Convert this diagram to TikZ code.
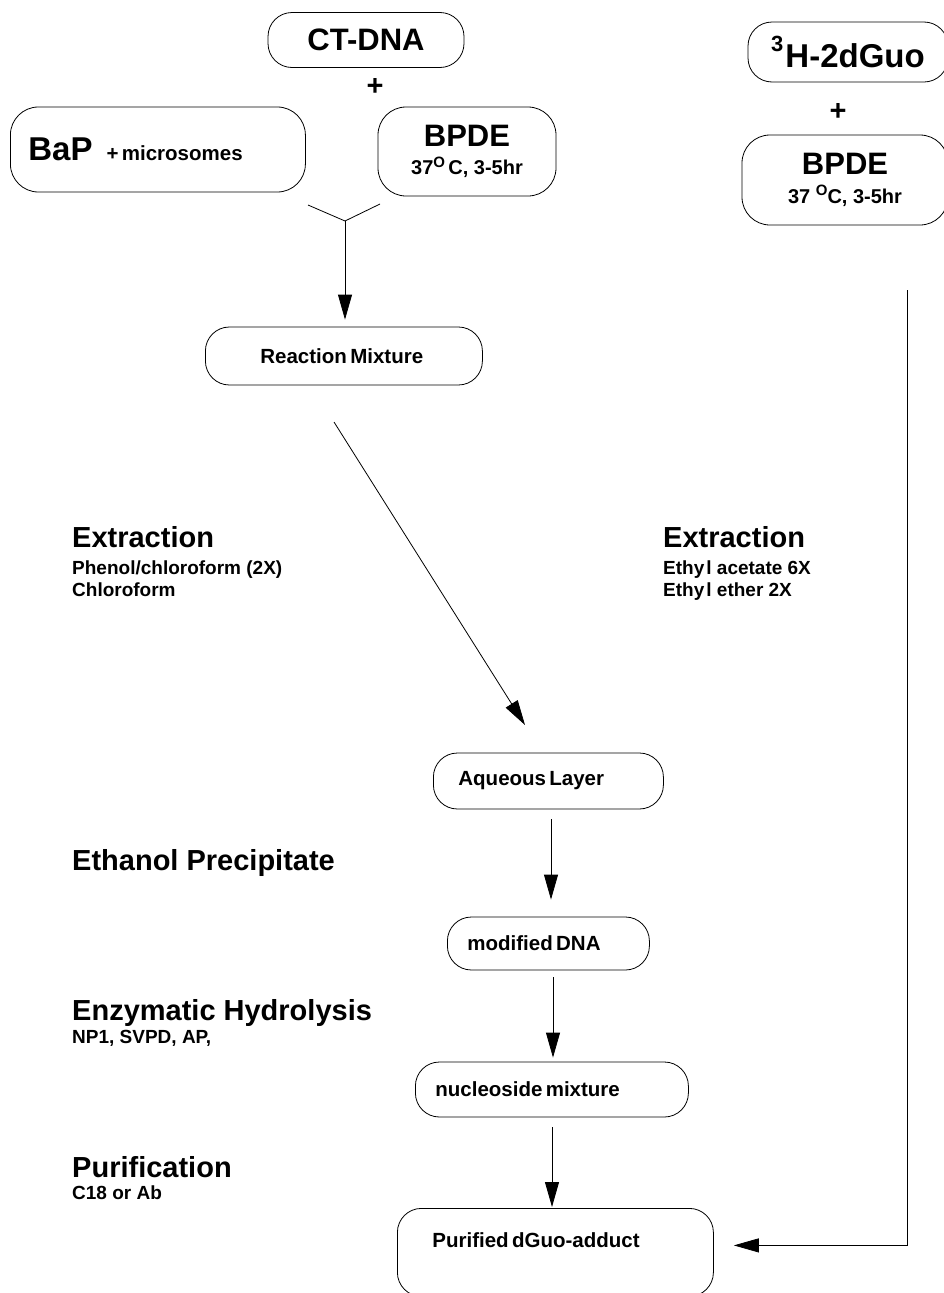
\documentclass[tikz,border=0pt]{standalone}
\usepackage{fontspec}
\setmainfont{Liberation Sans}
\usetikzlibrary{arrows.meta}
\newcommand{\fttl}{\fontsize{31}{36}\selectfont\bfseries}
\newcommand{\fbig}{\fontsize{29}{34}\selectfont\bfseries}
\newcommand{\fmid}{\fontsize{20.5}{24}\selectfont\bfseries}
\newcommand{\fsm}{\fontsize{19}{23}\selectfont\bfseries}
\newcommand{\ftmp}{\fontsize{20}{24}\selectfont\bfseries}
\newcommand{\degO}{\raisebox{7.5pt}{\fontsize{15}{15}\selectfont O}}
\newcommand{\twoline}[2]{\fontsize{1}{1}\selectfont\begin{tabular}{@{}c@{}}#1\\\rule{0pt}{28pt}#2\end{tabular}}
\begin{document}
\begin{tikzpicture}[x=1pt,y=-1pt,
  box/.style={draw, line width=0.8pt, rounded corners=24pt, inner ysep=0pt},
  lbox/.style={box, anchor=west, align=left},
  conn/.style={line width=0.8pt},
  arr/.style={conn, -{Triangle[length=25pt,width=14pt]}},
  lbl/.style={anchor=base west, inner sep=0pt},
  plus/.style={inner sep=0pt, font=\fbig},
]
\useasboundingbox (0,0) rectangle (944,1293);

% top left
\node[box, minimum width=196pt, minimum height=55pt] (ct) at (366,40) {\fttl CT-DNA};
\node[plus] (p1) at (375,87) {+};
\node[lbox, minimum height=85pt, inner xsep=18pt, text width=259pt, rounded corners=28pt] (bap) at (10,149.5) {{\fontsize{33}{38}\selectfont\bfseries BaP}\kern14pt{\fontsize{20.5}{24}\selectfont\bfseries + microsomes}};
\node[box, minimum width=178pt, minimum height=89pt, rounded corners=28pt, inner xsep=0pt] (bpde) at (467,151.5)
  {\twoline{\fttl BPDE}{\ftmp 37\degO\,C, 3-5hr}};

% top right
\node[box, minimum width=200pt, minimum height=60pt] (hg) at (848,52) {\fontsize{33}{38}\selectfont\bfseries\raisebox{16pt}{\fontsize{22}{22}\selectfont 3}\kern2pt H-2dGuo};
\node[plus] (p2) at (838,112) {+};
\node[box, minimum width=206pt, minimum height=90pt, rounded corners=28pt, inner xsep=0pt] (bpde2) at (845,180)
  {\twoline{\fttl BPDE}{\ftmp 37 \degO C, 3-5hr}};

% Y junction
\coordinate (yl) at (308,205);
\coordinate (yr) at (380,204);
\coordinate (yj) at (345,221);
\draw[conn] (yl) -- (yj) -- (yr);

\node[lbox, minimum height=58pt, inner xsep=55pt, text width=167pt] (rm) at (205,356) {\fmid Reaction Mixture};
\draw[arr, shorten >=7pt] (yj) -- (rm.north -| yj);

% diagonal
\coordinate (d1) at (334,422);
\coordinate (d2) at (525,725);
\draw[arr] (d1) -- (d2);

\node[lbox, minimum height=56pt, inner xsep=25pt, text width=180pt] (aq) at (433,781) {\fmid Aqueous Layer};
\node[lbox, minimum height=53pt, inner xsep=20pt, text width=162pt] (md) at (447,943.5) {\fmid modified DNA};
\node[lbox, minimum height=55pt, inner xsep=20pt, text width=233pt] (nc) at (415,1089.5) {\fmid nucleoside mixture};
\node[box, anchor=north west, align=left, inner xsep=35pt, text width=246pt, text height=39pt, text depth=49pt] (pu) at (397,1208) {\fmid Purified dGuo-adduct};

\coordinate (v1) at (551,0);
\coordinate (v2) at (553,0);
\coordinate (v3) at (552,0);
\draw[arr, shorten <=10pt, shorten >=17pt] (aq.south -| v1) -- (md.north -| v1);
\draw[arr, shorten <=7pt, shorten >=4pt] (md.south -| v2) -- (nc.north -| v2);
\draw[arr, shorten <=10pt, shorten >=1pt] (nc.south -| v3) -- (pu.north -| v3);

% right path
\coordinate (rs) at (907,290);
\draw[arr, shorten >=20pt] (rs) |- ([yshift=7pt]pu.east);

% labels
\node[lbl] (ex1) at (72,547) {\fbig Extraction};
\node[lbl] (ex1a) at (72,574) {\fsm Phenol/chloroform (2X)};
\node[lbl] (ex1b) at (72,596) {\fsm Chloroform};
\node[lbl] (ex2) at (663,547) {\fbig Extraction};
\node[lbl] (ex2a) at (663,574) {\fsm Ethy\kern2pt l acetate 6X};
\node[lbl] (ex2b) at (663,596) {\fsm Ethy\kern2pt l ether 2X};
\node[lbl] (eth) at (72,870) {\fbig Ethanol Precipitate};
\node[lbl] (enz) at (72,1020) {\fbig Enzymatic Hydrolysis};
\node[lbl] (enza) at (72,1043) {\fsm NP1, SVPD, AP,};
\node[lbl] (pur) at (72,1177) {\fbig Purification};
\node[lbl] (pura) at (72,1199) {\fsm C18 or Ab};
\end{tikzpicture}
\end{document}
